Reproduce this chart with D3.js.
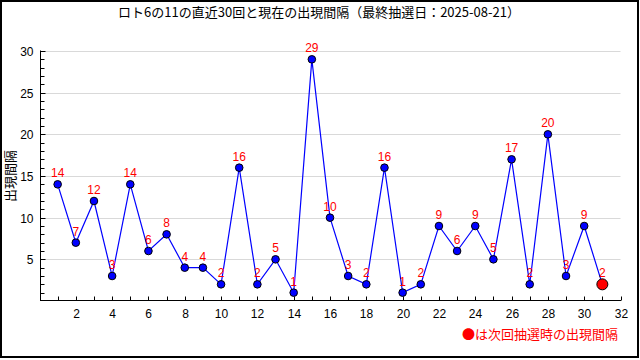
<!DOCTYPE html>
<html><head><meta charset="utf-8">
<script src="https://cdn.jsdelivr.net/npm/d3@7"></script>
<style>body{margin:0;background:#fff}svg{display:block}</style>
</head><body>
<svg id="c" width="640" height="360"></svg>
<script>
const titleText = "ロト6の11の直近30回と現在の出現間隔（最終抽選日：2025-08-21）";
const yLabel = "出現間隔";
const noteText = "●は次回抽選時の出現間隔";
const draws = [1,2,3,4,5,6,7,8,9,10,11,12,13,14,15,16,17,18,19,20,21,22,23,24,25,26,27,28,29,30,31];
const gaps  = [14,7,12,3,14,6,8,4,4,2,16,2,5,1,29,10,3,2,16,1,2,9,6,9,5,17,2,20,3,9,2];
const xTickLabels = [2,4,6,8,10,12,14,16,18,20,22,24,26,28,30,32];
const yTickLabels = [5,10,15,20,25,30];

const svg = d3.select("#c");
const x = d3.scaleLinear().domain([0,32]).range([39.5,620.5]);
const y = d3.scaleLinear().domain([0,30]).range([301,51]);
const L = 40.5, B = 300.5, R = 620.5;

// frame
svg.append("rect").attr("x",1).attr("y",1).attr("width",637).attr("height",356)
  .attr("fill","#fff").attr("stroke","#000").attr("stroke-width",2);

// title
svg.append("text").attr("x",319).attr("y",17).attr("text-anchor","middle")
  .attr("font-family","'Noto Sans CJK JP'").attr("font-size",13).attr("fill","#000").text(titleText);

// gridlines
svg.append("g").selectAll("line").data(yTickLabels).join("line")
  .attr("x1",L).attr("x2",R).attr("y1",d=>Math.round(y(d))+0.5).attr("y2",d=>Math.round(y(d))+0.5)
  .attr("stroke","#d9d9d9").attr("stroke-width",1);

// y axis
const yAxis = d3.axisRight(y).tickValues(d3.range(1,31)).tickSize(4)
  .tickFormat(d=> yTickLabels.includes(d)? d : "");
const gy = svg.append("g").attr("transform",`translate(${L},0)`).call(yAxis);
gy.select(".domain").remove();
gy.selectAll(".tick").attr("transform",d=>`translate(0,${Math.round(y(d))+0.5})`);
gy.selectAll(".tick line").attr("stroke","#000").attr("x2",d=>yTickLabels.includes(d)?5:4);
gy.selectAll(".tick text").attr("x",-7).attr("text-anchor","end").attr("dy","0.35em")
  .attr("font-family","'Liberation Sans',Arial").attr("font-size",12).attr("fill","#000");
svg.append("line").attr("x1",L).attr("x2",L).attr("y1",y(30)-0.5).attr("y2",B+0.5).attr("stroke","#000");

// x axis
const xAxis = d3.axisTop(x).tickValues(d3.range(1,33)).tickSize(4)
  .tickFormat(d=> xTickLabels.includes(d)? d : "");
const gx = svg.append("g").attr("transform",`translate(0,${B})`).call(xAxis);
gx.select(".domain").remove();
gx.selectAll(".tick").attr("transform",d=>`translate(${Math.round(x(d))+0.5},0)`);
gx.selectAll(".tick line").attr("stroke","#000");
gx.selectAll(".tick text").attr("y",13).attr("dy","0.35em")
  .attr("font-family","'Liberation Sans',Arial").attr("font-size",12).attr("fill","#000");
svg.append("line").attr("x1",L-0.5).attr("x2",R+0.5).attr("y1",B).attr("y2",B).attr("stroke","#000");

// y label
svg.append("text").attr("transform","translate(15,176) rotate(-90)").attr("text-anchor","middle")
  .attr("font-family","'Noto Sans CJK JP'").attr("font-size",13).attr("fill","#000").text(yLabel);

// line
const pts = draws.map((d,i)=>({x:d,y:gaps[i],last:i===draws.length-1}));
svg.append("path").datum(pts)
  .attr("d",d3.line().x(d=>x(d.x)).y(d=>y(d.y)))
  .attr("fill","none").attr("stroke","#0000ff").attr("stroke-width",1.2);

// points
svg.append("g").selectAll("circle").data(pts).join("circle")
  .attr("cx",d=>x(d.x)).attr("cy",d=>y(d.y)).attr("r",d=>d.last?5.5:3.8)
  .attr("fill",d=>d.last?"#ff0000":"#0000ff").attr("stroke","#000").attr("stroke-width",1);

// value labels
svg.append("g").selectAll("text").data(pts).join("text")
  .attr("x",d=>x(d.x)).attr("y",d=>y(d.y)-7).attr("text-anchor","middle")
  .attr("font-family","'Liberation Sans',Arial").attr("font-size",12).attr("fill","#ff0000")
  .text(d=>d.y);

// note
svg.append("text").attr("x",618).attr("y",339).attr("text-anchor","end")
  .attr("font-family","'Noto Sans CJK JP'").attr("font-size",13).attr("fill","#ff0000").text(noteText);
</script>
</body></html>
